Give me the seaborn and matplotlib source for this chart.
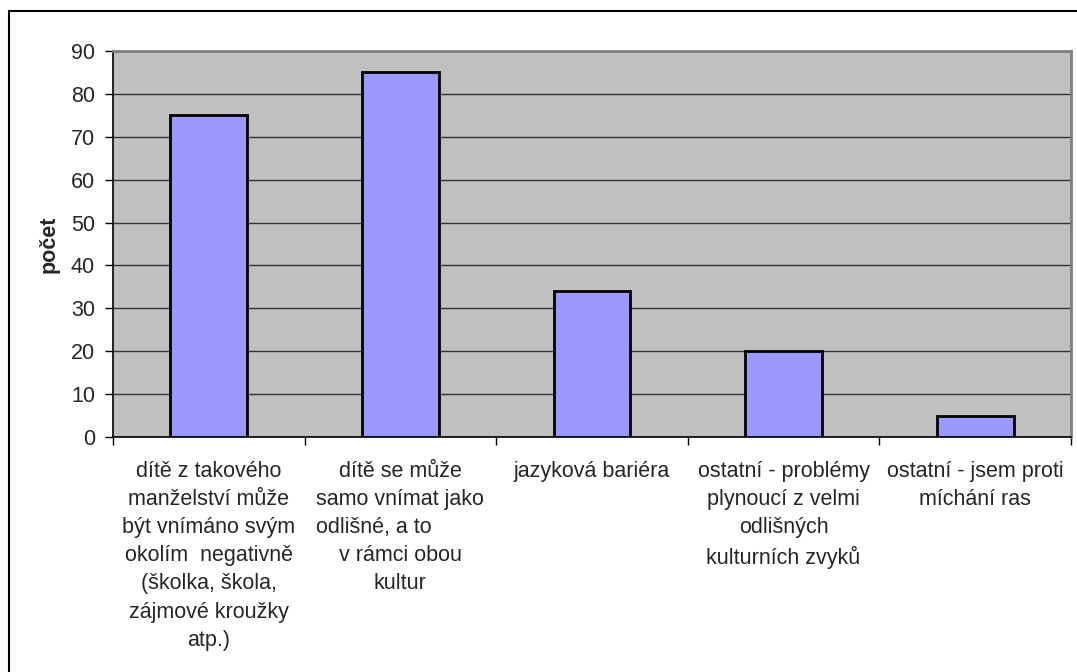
import matplotlib
matplotlib.use("Agg")
import matplotlib.pyplot as plt
from matplotlib.patches import Rectangle
import seaborn as sns
import pandas as pd

# Survey answers: perceived problems of children from mixed marriages
categories = [
    "dítě z takového\nmanželství může\nbýt vnímáno svým\nokolím  negativně\n(školka, škola,\nzájmové kroužky\natp.)",
    "dítě se může\nsamo vnímat jako\nodlišné, a to         \nv rámci obou\nkultur",
    "jazyková bariéra",
    "ostatní - problémy\nplynoucí z velmi\nodlišných\nkulturních zvyků",
    "ostatní - jsem proti\nmíchání ras",
]
counts = [75, 85, 34, 20, 5]
y_ticks = [0, 10, 20, 30, 40, 50, 60, 70, 80, 90]
y_label = "počet"

df = pd.DataFrame({"kategorie": range(len(categories)), "pocet": counts})

sns.set_style("white")
plt.rcParams["font.family"] = ["Liberation Sans", "DejaVu Sans"]

FS = 15.5

fig = plt.figure(figsize=(10.77, 6.72), dpi=100)
ax = fig.add_axes([113 / 1077, 1 - 437 / 672, (1071 - 113) / 1077, (437 - 51) / 672])
ax.set_facecolor("#C0C0C0")

sns.barplot(data=df, x="kategorie", y="pocet", color="#9999FF", saturation=1,
            edgecolor="black", linewidth=2, width=0.4, ax=ax, zorder=3)

ax.set_xlim(-0.5, len(categories) - 0.5)
ax.set_ylim(0, 90)
ax.set_yticks(y_ticks)
ax.set_yticklabels([str(v) for v in y_ticks], fontsize=FS)
ax.yaxis.grid(True, color="#333333", linewidth=1, zorder=0)
ax.set_axisbelow(True)

# boundary ticks on x, labels centred under each bar
ax.set_xticks([i - 0.5 for i in range(len(categories) + 1)])
ax.set_xticklabels([])
ax.set_xticks(range(len(categories)), minor=True)
ax.set_xticklabels(categories, minor=True, fontsize=FS, linespacing=1.45,
                   multialignment="center", va="top")
ax.tick_params(axis="x", which="major", length=6, width=1, color="black", direction="out", bottom=True)
ax.tick_params(axis="x", which="minor", length=0, pad=17)
ax.tick_params(axis="y", length=6, width=1, color="black", direction="out", left=True, pad=7)

ax.set_xlabel("")
ax.set_ylabel(y_label, fontsize=FS, fontweight="bold", labelpad=8)

for side in ("left", "bottom"):
    ax.spines[side].set_color("black")
    ax.spines[side].set_linewidth(1.2)
for side in ("top", "right"):
    ax.spines[side].set_visible(True)
    ax.spines[side].set_color("#808080")
    ax.spines[side].set_linewidth(2)

# chart frame
fig.patches.append(Rectangle((9 / 1077, -0.1), 1.2, 1 - 11 / 672 + 0.1,
                             transform=fig.transFigure, fill=False,
                             edgecolor="black", linewidth=1.5, clip_on=False))

fig.savefig("out.png", dpi=100, facecolor="white")
